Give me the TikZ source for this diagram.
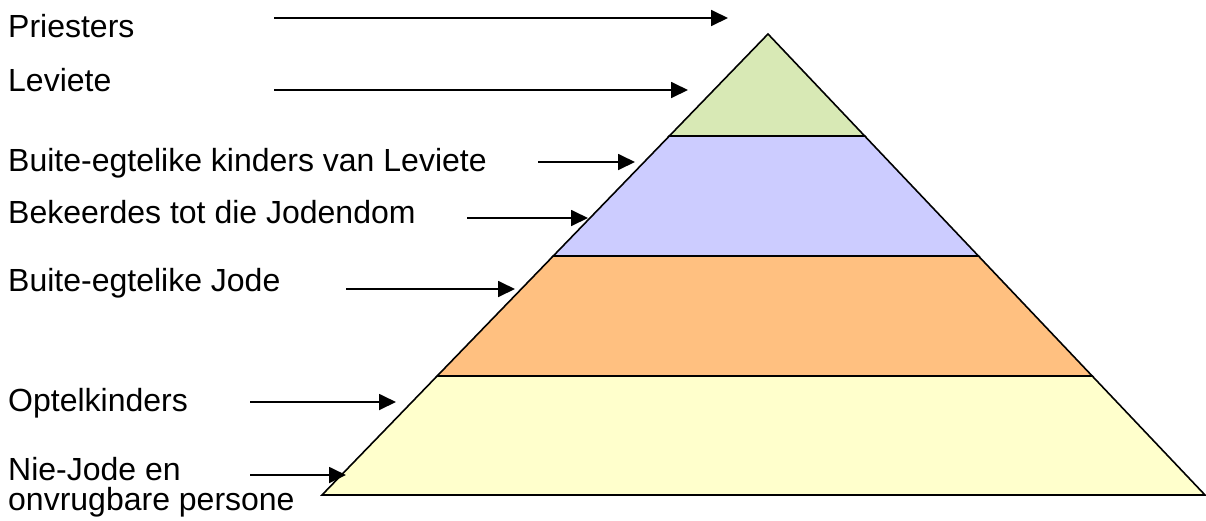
\documentclass[tikz,border=0pt]{standalone}
\usepackage{fontspec}
\setmainfont{Liberation Sans}
\usetikzlibrary{calc,arrows.meta}
\definecolor{pgreen}{RGB}{216,233,181}
\definecolor{pblue}{RGB}{204,204,255}
\definecolor{porange}{RGB}{255,192,128}
\definecolor{pyellow}{RGB}{255,255,204}
\tikzset{
  lbl/.style={anchor=base west,inner sep=0pt,font=\fontsize{32}{30}\selectfont,align=left},
  pointer/.style={line width=1.8pt,-{Triangle[length=17pt,width=16pt]}},
  band/.style={draw=black,line width=1.6pt,line join=miter}
}
\begin{document}
\begin{tikzpicture}[x=1pt,y=-1pt]
\useasboundingbox (0,0) rectangle (1206,520);
\fill[white] (0,0) rectangle (1206,520);
% pyramid corners
\coordinate (apex) at (768,34);
\coordinate (bl) at (322,495);
\coordinate (br) at (1205,495);
\coordinate (l1) at ($(apex)!0.2213!(bl)$);
\coordinate (r1) at ($(apex)!0.2213!(br)$);
\coordinate (l2) at ($(apex)!0.4816!(bl)$);
\coordinate (r2) at ($(apex)!0.4816!(br)$);
\coordinate (l3) at ($(apex)!0.7419!(bl)$);
\coordinate (r3) at ($(apex)!0.7419!(br)$);
\filldraw[band,fill=pyellow] (l3) -- (r3) -- (br) -- (bl) -- cycle;
\filldraw[band,fill=porange] (l2) -- (r2) -- (r3) -- (l3) -- cycle;
\filldraw[band,fill=pblue] (l1) -- (r1) -- (r2) -- (l2) -- cycle;
\filldraw[band,fill=pgreen] (apex) -- (r1) -- (l1) -- cycle;
% labels
\node[lbl] (t1) at (8,37) {Priesters};
\node[lbl] (t2) at (8,91) {Leviete};
\node[lbl] (t3) at (8,171.5) {Buite-egtelike kinders van Leviete};
\node[lbl] (t4) at (8,223) {Bekeerdes tot die Jodendom};
\node[lbl] (t5) at (8,291.5) {Buite-egtelike Jode};
\node[lbl] (t6) at (8,411.5) {Optelkinders};
\node[lbl] (t7) at (8,480) {Nie-Jode en};
\node[lbl] (t8) at (8,510) {onvrugbare persone};
% arrow ends
\coordinate (s1) at (274,18);   \coordinate (e1) at (728,18);
\coordinate (s2) at (274,90);   \coordinate (e2) at (688,90);
\coordinate (s3) at (538,162);  \coordinate (e3) at (635,162);
\coordinate (s4) at (467,218);  \coordinate (e4) at (588,218);
\coordinate (s5) at (346,289);  \coordinate (e5) at (515,289);
\coordinate (s6) at (250,402);  \coordinate (e6) at (396,402);
\coordinate (s7) at (250,475);  \coordinate (e7) at (346,475);
\foreach \i in {1,...,7} {\draw[pointer] (s\i) -- (e\i);}
\end{tikzpicture}
\end{document}
